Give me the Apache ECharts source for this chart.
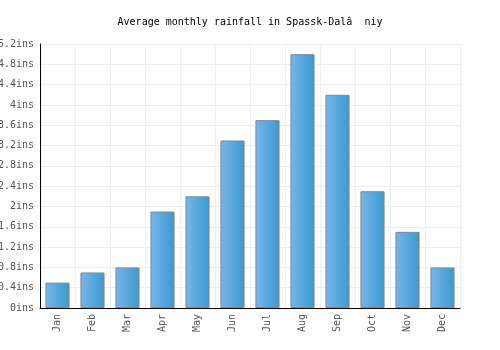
<!DOCTYPE html>
<html><head><meta charset="utf-8">
<script src="https://cdn.jsdelivr.net/npm/echarts@6/dist/echarts.min.js"></script>
<style>html,body{margin:0;padding:0;background:#fff}#c{width:500px;height:350px}</style>
</head><body><div id="c"></div>
<script>
const titleText = "Average monthly rainfall in Spassk-Dal\u00e2  niy";
const months = ["Jan","Feb","Mar","Apr","May","Jun","Jul","Aug","Sep","Oct","Nov","Dec"];
const rainfall = [0.5,0.7,0.8,1.9,2.2,3.3,3.7,5.0,4.2,2.3,1.5,0.8];
const unit = "ins";
const font = "'DejaVu Sans Mono', monospace";

const chart = echarts.init(document.getElementById('c'), null, {renderer:'canvas'});
chart.setOption({
  animation:false,
  backgroundColor:'#fff',
  title:{text:titleText,left:'center',top:12,textStyle:{fontFamily:font,fontSize:10,fontWeight:'normal',color:'#000'}},
  grid:{left:40,right:40,top:44,bottom:42,containLabel:false,outerBoundsMode:'none'},
  xAxis:{type:'category',data:months,
    axisLine:{lineStyle:{color:'#000',width:1}},
    axisTick:{show:false},
    axisLabel:{rotate:90,fontFamily:font,fontSize:10,color:'#555',margin:6},
    splitLine:{show:true,lineStyle:{color:'#eeeeee'}}},
  yAxis:{type:'value',min:0,max:5.2,interval:0.4,
    axisLine:{show:true,lineStyle:{color:'#000',width:1}},
    axisTick:{show:false},
    axisLabel:{fontFamily:font,fontSize:10,color:'#555',margin:6,formatter:v=>(+v.toFixed(1))+unit},
    splitLine:{show:true,lineStyle:{color:'#eeeeee'}}},
  series:[{type:'bar',data:rainfall,barCategoryGap:'31%',
    itemStyle:{borderColor:'#888',borderWidth:1,
      color:new echarts.graphic.LinearGradient(0,0,1,0,[{offset:0,color:'#78b6ea'},{offset:1,color:'#3a99d1'}])}}]
});
</script></body></html>
